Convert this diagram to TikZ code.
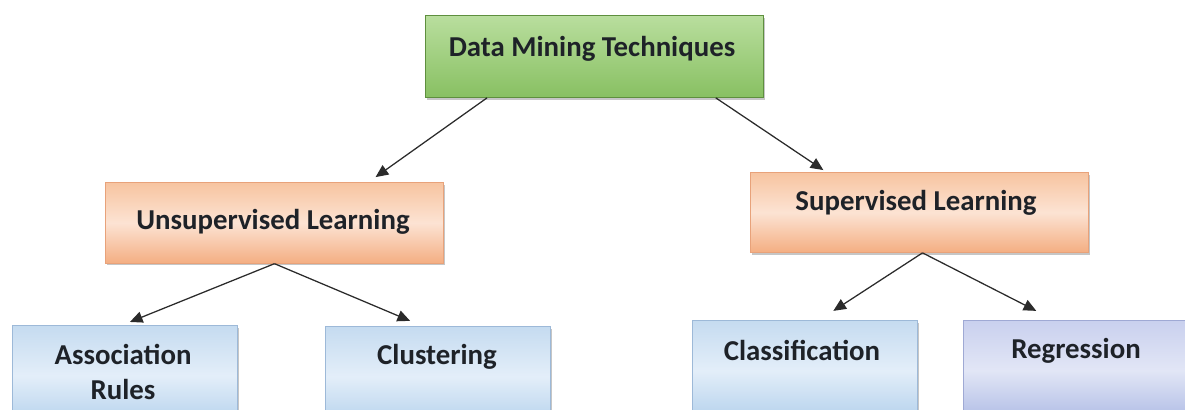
\documentclass[tikz,border=0pt]{standalone}
\usepackage{fontspec}
\setmainfont{Carlito}
\usepackage{tikz}
\usetikzlibrary{arrows.meta,calc,shadows}
\definecolor{dmgreenA}{HTML}{B9DE9E}
\definecolor{dmgreenB}{HTML}{88C062}
\definecolor{dmgreenD}{HTML}{5E8F3E}
\definecolor{dmorangeA}{HTML}{F7C4A0}
\definecolor{dmorangeM}{HTML}{FCE3D3}
\definecolor{dmorangeB}{HTML}{F4AE82}
\definecolor{dmorangeD}{HTML}{E8A27A}
\definecolor{dmblueA}{HTML}{C5DBF0}
\definecolor{dmblueM}{HTML}{E3EEF9}
\definecolor{dmblueB}{HTML}{B4D1EC}
\definecolor{dmblueD}{HTML}{9DB9D8}
\definecolor{dmlavA}{HTML}{C9D0EE}
\definecolor{dmlavM}{HTML}{E2E6F6}
\definecolor{dmlavB}{HTML}{B0BCE5}
\definecolor{dmlavD}{HTML}{9FA9D4}
\definecolor{dmtext}{HTML}{1E2228}
\definecolor{dmarrow}{HTML}{2B2B2B}

\begin{document}
\begin{tikzpicture}[x=0.025cm, y=-0.025cm,
    box/.style={rectangle, anchor=north west, inner sep=0pt, line width=0.6pt,
        drop shadow={shadow xshift=1.2pt, shadow yshift=-1.6pt, opacity=0.45}},
    greenbox/.style={box, draw=dmgreenD, top color=dmgreenA, bottom color=dmgreenB,
        minimum width=8.45cm, minimum height=2.05cm},
    orangebox/.style={box, draw=dmorangeD, top color=dmorangeA, bottom color=dmorangeB,
        middle color=dmorangeM, minimum width=8.45cm, minimum height=2.02cm},
    bluebox/.style={box, draw=dmblueD, top color=dmblueA, bottom color=dmblueB,
        middle color=dmblueM, minimum width=5.62cm, minimum height=2.5cm},
    lavbox/.style={bluebox, draw=dmlavD, top color=dmlavA, bottom color=dmlavB,
        middle color=dmlavM},
    lbl/.style={font=\fontsize{20.5}{25}\selectfont\bfseries, text=dmtext,
        align=center, inner sep=0pt},
    arr/.style={-{Triangle[length=9pt, width=8pt]}, line width=0.9pt, draw=dmarrow}
]
    \useasboundingbox (0,0) rectangle (1185,409);
    \clip (0,0) rectangle (1185,409);

    \node[greenbox] (dmt) at (425,15) {};
    \node[orangebox] (unsup) at (105,182) {};
    \node[orangebox, minimum height=2cm] (sup) at (750,172) {};
    \node[bluebox] (assoc) at (12,325) {};
    \node[bluebox] (clust) at (325,326) {};
    \node[bluebox] (class) at (692,320) {};
    \node[lavbox] (regr) at (963,320) {};

    \node[lbl] (dmt-t) at (592,49) {Data Mining Techniques};
    \node[lbl] (unsup-t) at (273,222) {Unsupervised Learning};
    \node[lbl] (sup-t) at (916,203) {Supervised Learning};
    \node[lbl] (assoc-t) at (123,372) {Association\\Rules};
    \node[lbl] (clust-t) at (437,357) {Clustering};
    \node[lbl] (class-t) at (802,350) {Classification};
    \node[lbl] (regr-t) at (1076,351) {Regression};

    \draw[arr, shorten >=6pt] ($(dmt.south west)!0.183!(dmt.south east)$)
        -- ($(unsup.north west)!0.778!(unsup.north east)$);
    \draw[arr, shorten >=2.5pt] ($(dmt.south west)!0.858!(dmt.south east)$)
        -- ($(sup.north west)!0.225!(sup.north east)$);
    \draw[arr, shorten >=5.8pt] (unsup.south) -- ($(assoc.north west)!0.489!(assoc.north east)$);
    \draw[arr, shorten >=9.4pt] (unsup.south) -- ($(clust.north west)!0.431!(clust.north east)$);
    \draw[arr, shorten >=11.9pt] ($(sup.south west)!0.509!(sup.south east)$)
        -- ($(class.north west)!0.564!(class.north east)$);
    \draw[arr, shorten >=14.3pt] ($(sup.south west)!0.509!(sup.south east)$)
        -- ($(regr.north west)!0.404!(regr.north east)$);
\end{tikzpicture}
\end{document}
